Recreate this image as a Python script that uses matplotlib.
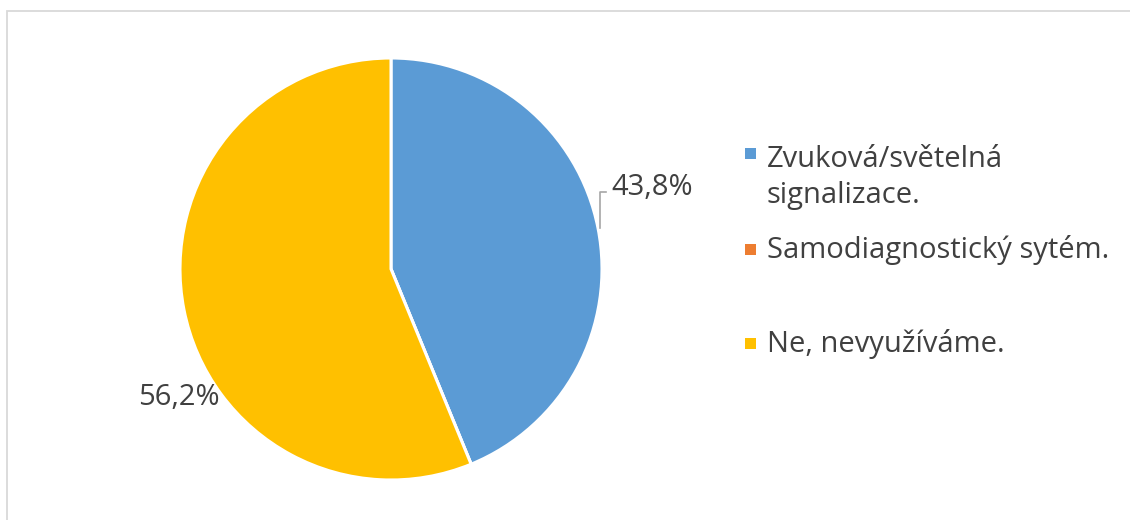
import matplotlib
matplotlib.use("Agg")
import matplotlib.pyplot as plt
from matplotlib.patches import Rectangle

# Survey answers and their shares (%)
categories = ["Zvuková/světelná\nsignalizace.", "Samodiagnostický sytém.", "Ne, nevyužíváme."]
shares = [43.8, 0.0, 56.2]
colors = ["#5B9BD5", "#ED7D31", "#FFC000"]

W, H = 1130, 520
DPI = 100
plt.rcParams["font.family"] = ["Open Sans", "DejaVu Sans"]
text_color = "#404040"
fs = 21

fig = plt.figure(figsize=(W / DPI, H / DPI), dpi=DPI)
fig.patch.set_facecolor("white")

# Chart frame (extends past the right and bottom edges)
fig.patches.append(Rectangle((6.5 / W, -0.1), 1.2, 1 - 10.5 / H + 0.1,
                             transform=fig.transFigure, fill=False,
                             edgecolor="#D9D9D9", linewidth=1.3))

# Pie axes: centre (391, 269), radius 211 px
cx, cy, r = 391, 269, 211
ax = fig.add_axes([(cx - r) / W, (H - cy - r) / H, 2 * r / W, 2 * r / H])

wedges, _ = ax.pie(shares, colors=colors, startangle=90, counterclock=False,
                   radius=1.0, wedgeprops=dict(edgecolor="white", linewidth=2.2))
ax.set_xlim(-1, 1)
ax.set_ylim(-1, 1)
ax.set_aspect("equal")
ax.axis("off")

# Data labels
def fmt(v):
    return f"{v:.1f}%".replace(".", ",")

ax.plot([0.99, 0.99, 1.02], [0.195, 0.365, 0.365], color="#A6A6A6", lw=1.2,
        clip_on=False)
ax.text(1.045, 0.385, fmt(shares[0]), color=text_color, fontsize=fs,
        ha="left", va="center")
ax.text(-1.005, -0.61, fmt(shares[2]), color=text_color, fontsize=fs,
        ha="center", va="center")

# Legend drawn by hand (pixel positions, y from top)
marker_y = [153, 249, 343]
text_baselines = [[167, 203], [258], [352]]
for name, col, my, bls in zip(categories, colors, marker_y, text_baselines):
    fig.patches.append(Rectangle((745 / W, (H - my - 6) / H), 11 / W, 11 / H,
                                 transform=fig.transFigure, facecolor=col,
                                 edgecolor="none"))
    for line, bl in zip(name.split("\n"), bls):
        fig.text(767 / W, (H - bl) / H, line, color=text_color, fontsize=fs,
                 ha="left", va="baseline")

fig.savefig("out.png", dpi=DPI, facecolor="white")
